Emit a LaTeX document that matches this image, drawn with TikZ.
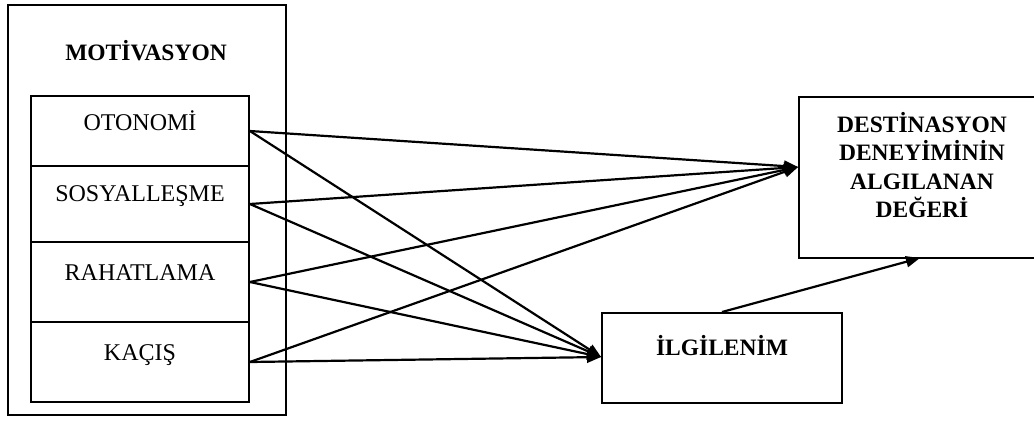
\documentclass[tikz,border=0pt]{standalone}
\usepackage{fontspec}
\setmainfont{Liberation Serif}
\usetikzlibrary{arrows.meta}
\begin{document}
\begin{tikzpicture}[x=1pt,y=-1pt,
  box/.style={draw,line width=1.8pt,minimum width=#1,inner sep=0pt},
  lbl/.style={anchor=base,inner sep=0pt,font=\fontsize{24}{28}\selectfont},
  blbl/.style={anchor=base,inner sep=0pt,font=\fontsize{23.5}{28}\selectfont\bfseries},
  conn/.style={line width=2.2pt,-{Triangle[length=14pt,width=11pt]}}]
\useasboundingbox (0,0) rectangle (1034,421);
% outer box
\node[box=278pt,minimum height=410pt] (outer) at (147,210) {};
\node[blbl] (title) at (146,60) {MOTİVASYON};
% inner boxes
\node[box=218pt,minimum height=70pt] (oto) at (140,131) {};
\node[box=218pt,minimum height=76pt] (sos) at (140,204) {};
\node[box=218pt,minimum height=80pt] (rah) at (140,282) {};
\node[box=218pt,minimum height=80pt] (kac) at (140,362) {};
\node[lbl] (otot) at (140,130) {OTONOMİ};
\node[lbl] (sost) at (140,201) {SOSYALLEŞME};
\node[lbl] (raht) at (140,280) {RAHATLAMA};
\node[lbl] (kact) at (140,360) {KAÇIŞ};
% destination box
\node[box=246pt,minimum height=161pt] (dest) at (922,177.5) {};
\node[blbl] (d1) at (922,132) {DESTİNASYON};
\node[blbl] (d2) at (922,160) {DENEYİMİNİN};
\node[blbl] (d3) at (922,189) {ALGILANAN};
\node[blbl] (d4) at (922,217) {DEĞERİ};
% ilgilenim box
\node[box=240pt,minimum height=90pt] (ilg) at (722,358) {};
\node[blbl] (ilgt) at (722,355) {İLGİLENİM};
% connectors
\coordinate (dIn) at (dest.west |- 0,167);
\coordinate (iIn) at (ilg.west |- 0,357);
\coordinate (iOut) at (722,312);
\coordinate (dBot) at (920,258);
\foreach \s in {oto,sos,rah,kac}{
  \draw[conn] (\s.east) -- (dIn);
  \draw[conn] (\s.east) -- (iIn);
}
\draw[conn] (iOut) -- (dBot);
\end{tikzpicture}
\end{document}
